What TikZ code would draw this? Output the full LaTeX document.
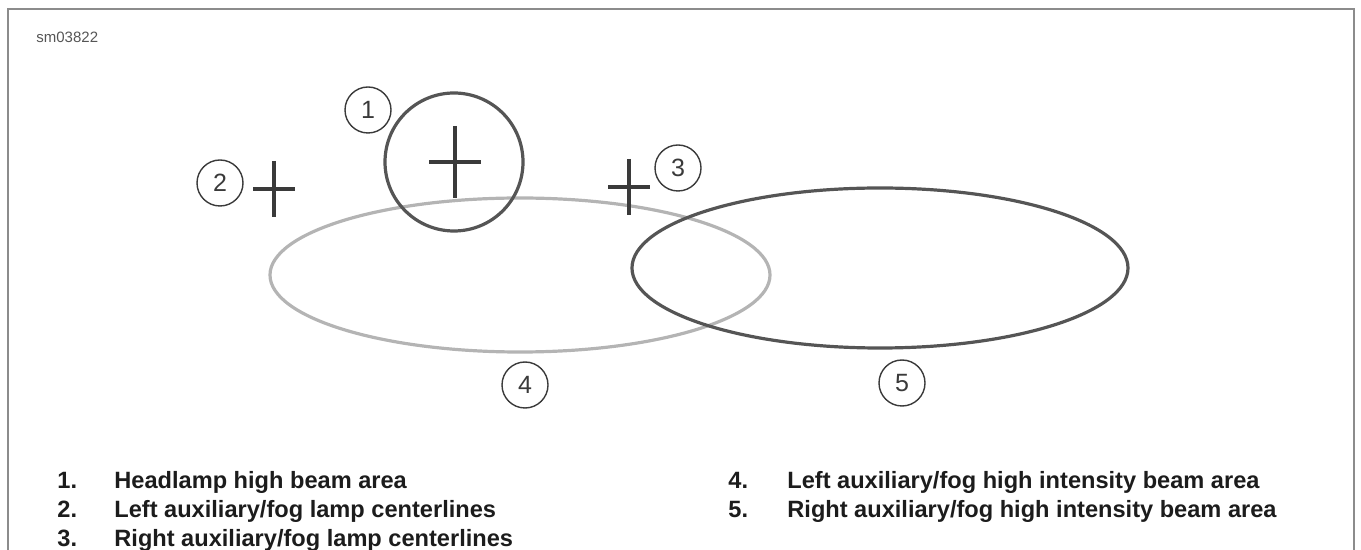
\documentclass[tikz,border=0pt]{standalone}
\usepackage{fontspec}
\setmainfont{Liberation Sans}
\usepackage{xcolor}
\usetikzlibrary{positioning,shapes.geometric}
\definecolor{figFrame}{HTML}{8C8C8C}
\definecolor{figDark}{HTML}{3A3A3A}
\definecolor{figMid}{HTML}{555555}
\definecolor{figLight}{HTML}{B4B4B4}
\definecolor{figText}{HTML}{1C1C1C}

\begin{document}
\begin{tikzpicture}[
  x=0.5pt, y=-0.5pt,
  tag/.style={draw=figDark, line width=0.7pt, circle, minimum size=23pt, inner sep=0pt,
    font=\fontsize{12.5}{14}\selectfont, text=figDark},
  cross/.style={draw=figDark, line width=1.6pt},
  beam/.style={ellipse, inner sep=0pt, line width=1.6pt},
  item/.style={anchor=base west, inner sep=0pt, font=\fontsize{11.8}{14}\selectfont\bfseries, text=figText}
]
\useasboundingbox (0,0) rectangle (1361,550);

% Frame (open at the bottom)
\draw[figFrame, line width=1pt] (8,550) -- (8,9) -- (1354,9) -- (1354,550);
\node[anchor=west, inner sep=0pt, font=\fontsize{7.5}{9}\selectfont, text=figMid] (fig) at (36,37) {sm03822};

% Beam areas
\node[beam, draw=figLight, minimum width=250pt, minimum height=77pt] (leftbeam) at (520,275) {};
\node[beam, draw=figMid, minimum width=248pt, minimum height=80pt] (rightbeam) at (880,268) {};
\node[circle, draw=figMid, line width=1.6pt, minimum size=69pt, inner sep=0pt] (highbeam) at (454,162) {};

% Centerlines
\foreach \cx/\cy/\w/\h in {455/162/26/36, 274/189/21/28, 629/187/21/28} {
  \draw[cross] (\cx-\w,\cy) -- (\cx+\w,\cy) (\cx,\cy-\h) -- (\cx,\cy+\h);
}

% Callouts
\node[tag] (t1) at (368,110) {1};
\node[tag] (t2) at (220,183) {2};
\node[tag] (t3) at (678,168) {3};
\node[tag] (t4) at (525,385) {4};
\node[tag] (t5) at (902,383) {5};

% Legend
\foreach \n/\nx/\tx/\ty/\txt in {1/57/114/489/{Headlamp high beam area},
    2/57/114/518/{Left auxiliary/fog lamp centerlines},
    3/57/114/547/{Right auxiliary/fog lamp centerlines},
    4/728/787/489/{Left auxiliary/fog high intensity beam area},
    5/728/787/518/{Right auxiliary/fog high intensity beam area}} {
  \node[item] (num\n) at (\nx,\ty) {\n.};
  \node[item] (txt\n) at (\tx,\ty) {\txt};
}
\end{tikzpicture}
\end{document}
